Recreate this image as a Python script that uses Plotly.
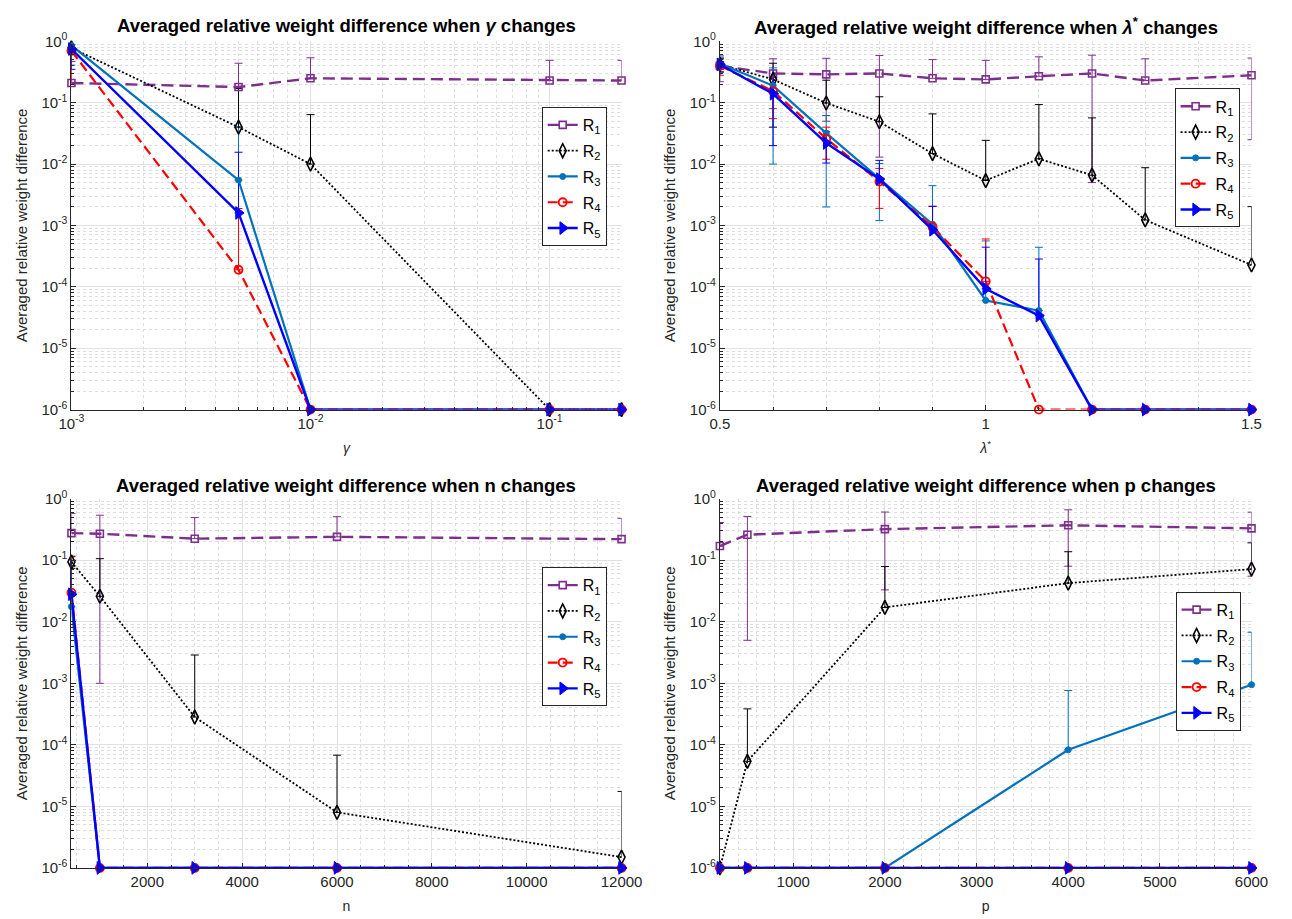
import numpy as np
import plotly.graph_objects as go

# ---------------- data ----------------
gamma_x = [0.001, 0.005, 0.01, 0.1, 0.2]
gamma_R1 = [0.21, 0.18, 0.25, 0.23, 0.23]
gamma_R1_sd = [0.26, 0.26, 0.29, 0.26, 0.26]
gamma_R2 = [0.78, 0.040, 0.010, 1e-6, 1e-6]
gamma_R2_sd = [0.10, 0.13, 0.054, 0, 0]
gamma_R3 = [0.86, 0.0055, 1e-6, 1e-6, 1e-6]
gamma_R3_sd = [0.45, 0.035, 0, 0, 0]
gamma_R4 = [0.70, 1.9e-4, 1e-6, 1e-6, 1e-6]
gamma_R4_sd = [0.50, 0.0017, 0, 0, 0]
gamma_R5 = [0.75, 0.0016, 1e-6, 1e-6, 1e-6]
gamma_R5_sd = [0.40, 0.014, 0, 0, 0]

lam_x = [0.5, 0.6, 0.7, 0.8, 0.9, 1.0, 1.1, 1.2, 1.3, 1.5]
lam_R1 = [0.40, 0.30, 0.29, 0.30, 0.25, 0.24, 0.27, 0.30, 0.23, 0.28]
lam_R1_sd = [0.18, 0.22, 0.24, 0.287, 0.255, 0.25, 0.29, 0.295, 0.29, 0.255]
lam_R2 = [0.42, 0.24, 0.099, 0.049, 0.0148, 0.0054, 0.0122, 0.0066, 0.00123, 0.000227]
lam_R2_sd = [0.05, 0.20, 0.134, 0.076, 0.051, 0.019, 0.081, 0.050, 0.0075, 0.0018]
lam_R3 = [0.43, 0.19, 0.032, 0.0057, 0.00105, 6.0e-5, 4.1e-5, 1e-6, 1e-6, 1e-6]
lam_R3_sd = [0.12, 0.18, 0.030, 0.0045, 0.0034, 5e-4, 4e-4, 0, 0, 0]
lam_R4 = [0.40, 0.155, 0.026, 0.0052, 0.00095, 1.23e-4, 1e-6, 1e-6, 1e-6, 1e-6]
lam_R4_sd = [0.12, 0.10, 0.014, 0.0033, 0.0011, 4.8e-4, 0, 0, 0, 0]
lam_R5 = [0.42, 0.14, 0.022, 0.0057, 0.00085, 9.3e-5, 3.4e-5, 1e-6, 1e-6, 1e-6]
lam_R5_sd = [0.10, 0.12, 0.0116, 0.0058, 0.0012, 3.5e-4, 2.5e-4, 0, 0, 0]

n_x = [400, 1000, 3000, 6000, 12000]
n_R1 = [0.276, 0.27, 0.224, 0.24, 0.22]
n_R1_sd = [0.30, 0.269, 0.27, 0.27, 0.26]
n_R2 = [0.094, 0.026, 2.83e-4, 8.0e-6, 1.5e-6]
n_R2_sd = [0.02, 0.08, 0.0026, 6e-5, 1.6e-5]
n_R3 = [0.0176, 1e-6, 1e-6, 1e-6, 1e-6]
n_R3_sd = [0.08, 0, 0, 0, 0]
n_R4 = [0.0297, 1e-6, 1e-6, 1e-6, 1e-6]
n_R4_sd = [0.087, 0, 0, 0, 0]
n_R5 = [0.028, 1e-6, 1e-6, 1e-6, 1e-6]
n_R5_sd = [0.072, 0, 0, 0, 0]

p_x = [200, 500, 2000, 4000, 6000]
p_R1 = [0.17, 0.26, 0.32, 0.37, 0.33]
p_R1_sd = [0.24, 0.255, 0.287, 0.29, 0.275]
p_R2 = [1e-6, 5.4e-5, 0.0171, 0.0425, 0.0718]
p_R2_sd = [0, 3.3e-4, 0.062, 0.095, 0.12]
p_R3 = [1e-6, 1e-6, 1e-6, 8.3e-5, 9.5e-4]
p_R3_sd = [0, 0, 0, 6.8e-4, 0.0058]
p_R4 = [1e-6, 1e-6, 1e-6, 1e-6, 1e-6]
p_R4_sd = [0, 0, 0, 0, 0]
p_R5 = [1e-6, 1e-6, 1e-6, 1e-6, 1e-6]
p_R5_sd = [0, 0, 0, 0, 0]

series_names = ["R<sub>1</sub>", "R<sub>2</sub>", "R<sub>3</sub>", "R<sub>4</sub>", "R<sub>5</sub>"]
y_tickvals = [1e-6, 1e-5, 1e-4, 1e-3, 1e-2, 1e-1, 1e0]
y_ticktext = ["10<sup>-6</sup>", "10<sup>-5</sup>", "10<sup>-4</sup>", "10<sup>-3</sup>",
              "10<sup>-2</sup>", "10<sup>-1</sup>", "10<sup>0</sup>"]

# ---------------- styles ----------------
FONT = "Liberation Sans, Arial, Helvetica, sans-serif"
TXT = "#262626"
styles = [
    dict(color="#7E2F8E", dash="12px,6px", width=2.4, symbol="square-open", size=7, mlw=1.6),
    dict(color="#000000", dash="2px,2px", width=1.8, symbol="diamond-tall-open", size=10, mlw=1.6),
    dict(color="#0072BD", dash="solid", width=2.2, symbol="circle", size=6, mlw=1),
    dict(color="#FF0000", dash="10px,5px", width=2.2, symbol="circle-open", size=8, mlw=1.8),
    dict(color="#0000FF", dash="solid", width=2.4, symbol="triangle-right", size=11, mlw=1),
]

W, H = 1292, 919
px_x = [(60, 625), (726, 1272)]
px_y = [(31, 407), (498, 875)]
title_px_y = [15, 485]
legend_px = [(543, 98), (1193, 79), (543, 568), (1194, 593)]


def dom_x(c):
    return [px_x[c][0] / W, px_x[c][1] / W]


def dom_y(r):
    return [1 - px_y[r][1] / H, 1 - px_y[r][0] / H]


panels = [
    dict(x=gamma_x, ys=[gamma_R1, gamma_R2, gamma_R3, gamma_R4, gamma_R5],
         sds=[gamma_R1_sd, gamma_R2_sd, gamma_R3_sd, gamma_R4_sd, gamma_R5_sd],
         title="Averaged relative weight difference when <i>γ</i> changes",
         xtitle="<i>γ</i>", r=0, c=0),
    dict(x=lam_x, ys=[lam_R1, lam_R2, lam_R3, lam_R4, lam_R5],
         sds=[lam_R1_sd, lam_R2_sd, lam_R3_sd, lam_R4_sd, lam_R5_sd],
         title="Averaged relative weight difference when <i>λ</i><sup>*</sup> changes",
         xtitle="<i>λ</i><sup>*</sup>", r=0, c=1),
    dict(x=n_x, ys=[n_R1, n_R2, n_R3, n_R4, n_R5],
         sds=[n_R1_sd, n_R2_sd, n_R3_sd, n_R4_sd, n_R5_sd],
         title="Averaged relative weight difference when n changes",
         xtitle="n", r=1, c=0),
    dict(x=p_x, ys=[p_R1, p_R2, p_R3, p_R4, p_R5],
         sds=[p_R1_sd, p_R2_sd, p_R3_sd, p_R4_sd, p_R5_sd],
         title="Averaged relative weight difference when p changes",
         xtitle="p", r=1, c=1),
]

fig = go.Figure()
annotations = []

for i, pnl in enumerate(panels):
    k = "" if i == 0 else str(i + 1)
    xa, ya = "x" + k, "y" + k
    leg = "legend" if i == 0 else "legend" + str(i + 1)
    x = np.array(pnl["x"], dtype=float)
    # error bars first (drawn beneath lines)
    for j in range(5):
        y = np.array(pnl["ys"][j], dtype=float)
        sd = np.array(pnl["sds"][j], dtype=float)
        m = sd > 0
        if not m.any():
            continue
        lo = np.where(y[m] - sd[m] > 0, sd[m], 0.0)
        st = styles[j]
        fig.add_trace(go.Scatter(
            x=x[m], y=y[m], mode="markers", marker=dict(size=1, opacity=0),
            error_y=dict(type="data", symmetric=False, array=sd[m], arrayminus=lo,
                         color=st["color"], thickness=1, width=4),
            xaxis=xa, yaxis=ya, showlegend=False, hoverinfo="skip"))
    for j in range(5):
        st = styles[j]
        fig.add_trace(go.Scatter(
            x=x, y=pnl["ys"][j], mode="lines+markers", name=series_names[j],
            line=dict(color=st["color"], dash=st["dash"], width=st["width"]),
            marker=dict(symbol=st["symbol"], size=st["size"], color=st["color"],
                        line=dict(color=st["color"], width=st["mlw"])),
            cliponaxis=False,
            xaxis=xa, yaxis=ya, legend=leg, legendgroup="p%d_%d" % (i, j)))

    xd, yd = dom_x(pnl["c"]), dom_y(pnl["r"])
    common = dict(showline=True, linecolor=TXT, linewidth=1, mirror=False,
                  ticks="inside", ticklen=5, tickcolor=TXT,
                  tickfont=dict(family=FONT, size=15, color=TXT),
                  showgrid=True, gridcolor="#e2e2e2", gridwidth=1, zeroline=False)
    minor_common = dict(ticks="inside", ticklen=3, tickcolor=TXT, showgrid=True,
                        gridcolor="#dedede", griddash="dot", gridwidth=1)
    if i == 0:
        xax = dict(type="log", range=[np.log10(0.001), np.log10(0.2)],
                   tickvals=[1e-3, 1e-2, 1e-1],
                   ticktext=["10<sup>-3</sup>", "10<sup>-2</sup>", "10<sup>-1</sup>"],
                   minor=dict(dtick="D1", **minor_common))
    elif i == 1:
        xax = dict(type="linear", range=[0.5, 1.5], tickvals=[0.5, 1.0, 1.5],
                   ticktext=["0.5", "1", "1.5"], minor=dict(dtick=0.1, **minor_common))
    elif i == 2:
        xax = dict(type="linear", range=[400, 12000], tick0=0, dtick=2000, tickformat="d",
                   minor=dict(dtick=500, **minor_common))
    else:
        xax = dict(type="linear", range=[200, 6000], tick0=0, dtick=1000, tickformat="d",
                   minor=dict(dtick=200, **minor_common))
    xax.update(common)
    xax.update(domain=xd, anchor=ya,
               title=dict(text=pnl["xtitle"], font=dict(family=FONT, size=14, color=TXT), standoff=12))
    yax = dict(type="log", range=[-6, 0], tickvals=y_tickvals, ticktext=y_ticktext,
               minor=dict(dtick="D1", **minor_common))
    yax.update(common)
    yax.update(domain=yd, anchor=xa,
               title=dict(text="Averaged relative weight difference",
                          font=dict(family=FONT, size=15, color=TXT), standoff=10))
    fig.layout["xaxis" + k] = xax
    fig.layout["yaxis" + k] = yax

    lx, ly = legend_px[i]
    fig.layout[leg] = dict(x=lx / W, y=1 - ly / H, xref="paper", yref="paper",
                           xanchor="left", yanchor="top",
                           bgcolor="white", bordercolor=TXT, borderwidth=1,
                           font=dict(family=FONT, size=16, color="#000000"),
                           traceorder="grouped", tracegroupgap=2, itemwidth=30)

    annotations.append(dict(
        text="<b>" + pnl["title"] + "</b>", x=(xd[0] + xd[1]) / 2,
        y=1 - title_px_y[pnl["r"]] / H, xref="paper", yref="paper",
        xanchor="center", yanchor="middle", showarrow=False,
        font=dict(family=FONT, size=18.5, color="#000000")))

fig.update_layout(width=W, height=H, margin=dict(l=0, r=0, t=0, b=0),
                  paper_bgcolor="white", plot_bgcolor="white",
                  annotations=annotations, font=dict(family=FONT, color=TXT))

fig.write_html("out.html", config={"displayModeBar": False},
               post_script="document.body.style.margin='0';document.body.style.overflow='hidden';")
